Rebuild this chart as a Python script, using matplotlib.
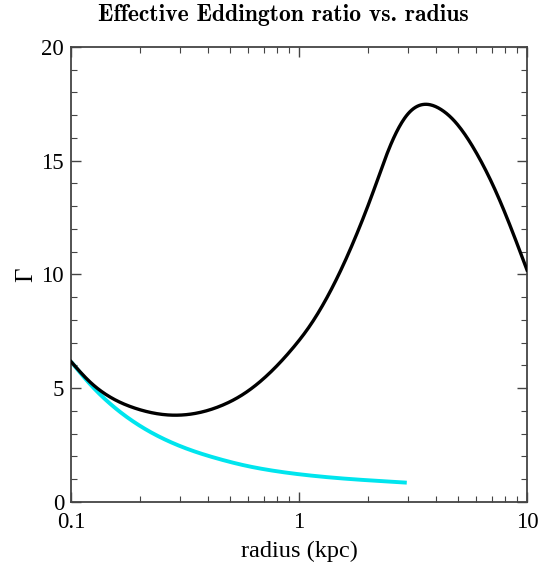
import numpy as np
import matplotlib
from matplotlib import pyplot as plt
from matplotlib.ticker import FixedLocator, MultipleLocator, NullFormatter

# black curve: effective Eddington ratio vs radius (kpc)
r_black = [0.1, 0.121, 0.148, 0.194, 0.263, 0.344, 0.45, 0.57, 0.675,
           0.944, 1.117, 1.322, 1.564, 1.852, 2.118, 2.465, 3.0, 3.63,
           4.2, 4.75, 6.01, 7.36, 10.0]
g_black = [6.17, 5.28, 4.62, 4.10, 3.83, 3.88, 4.21, 4.74, 5.29,
           6.79, 7.75, 8.96, 10.42, 12.13, 13.65, 15.45, 17.05, 17.48,
           17.25, 16.8, 15.33, 13.57, 10.2]

# cyan curve
r_cyan = [0.1, 0.121, 0.148, 0.194, 0.263, 0.344, 0.45, 0.57, 0.80,
          1.24, 1.62, 2.2, 2.97]
g_cyan = [6.17, 5.19, 4.33, 3.44, 2.71, 2.24, 1.88, 1.62, 1.35,
          1.12, 1.02, 0.93, 0.85]

x_ticks = [0.1, 1, 10]
x_ticklabels = ['0.1', '1', '10']

matplotlib.rc('font', family='Liberation Serif', size=16.5)


def spline(r, g, n=500):
    # natural cubic spline through the read points, in log-radius
    x = np.log10(r)
    y = np.asarray(g, float)
    nn = len(x)
    h = np.diff(x)
    A = np.zeros((nn, nn))
    b = np.zeros(nn)
    A[0, 0] = A[-1, -1] = 1
    for i in range(1, nn - 1):
        A[i, i - 1] = h[i - 1]
        A[i, i] = 2 * (h[i - 1] + h[i])
        A[i, i + 1] = h[i]
        b[i] = 6 * ((y[i + 1] - y[i]) / h[i] - (y[i] - y[i - 1]) / h[i - 1])
    M = np.linalg.solve(A, b)
    xs = np.linspace(x[0], x[-1], n)
    k = np.clip(np.searchsorted(x, xs, side='right') - 1, 0, nn - 2)
    t0 = x[k + 1] - xs
    t1 = xs - x[k]
    hk = h[k]
    ys = (M[k] * t0**3 / (6 * hk) + M[k + 1] * t1**3 / (6 * hk)
          + (y[k] / hk - M[k] * hk / 6) * t0
          + (y[k + 1] / hk - M[k + 1] * hk / 6) * t1)
    return 10**xs, ys


fig = plt.figure(figsize=(5.51, 5.68), dpi=100)
ax = fig.add_axes([0.1289, 0.1162, 0.9564 - 0.1289, 0.9173 - 0.1162])

xb, yb = spline(r_black, g_black)
xc, yc = spline(r_cyan, g_cyan)

ax.plot(xc, yc, color='#00e5ee', lw=2.8, solid_capstyle='butt', zorder=2)
ax.plot(xb, yb, color='black', lw=2.4, zorder=3)

ax.set_xscale('log')
ax.set_xlim(0.1, 10)
ax.set_ylim(0, 20)

ax.xaxis.set_major_locator(FixedLocator(x_ticks))
ax.set_xticklabels(x_ticklabels)
ax.xaxis.set_minor_locator(FixedLocator(
    [m * d for d in (0.1, 1) for m in range(2, 10)]))
ax.xaxis.set_minor_formatter(NullFormatter())
ax.yaxis.set_major_locator(MultipleLocator(5))
ax.yaxis.set_minor_locator(MultipleLocator(1))

ax.tick_params(which='both', direction='in', top=True, right=True,
               color='#444444')
ax.tick_params(which='major', length=7, width=1.0)
ax.tick_params(which='minor', length=4, width=0.8)
ax.tick_params(axis='x', which='major', pad=7)
ax.tick_params(axis='y', which='major', pad=5)
for s in ax.spines.values():
    s.set_color('#444444')
    s.set_linewidth(1.3)

ax.set_xlabel('radius (kpc)', fontsize=17.5)
ax.set_ylabel('Γ', fontsize=18, rotation=90)
ax.yaxis.set_label_coords(-0.075, 0.5)
ax.xaxis.set_label_coords(0.5, -0.085)

fig.text(0.514, 0.974, 'Effective Eddington ratio vs. radius',
         family='cmb10', fontsize=17, ha='center', va='center')

plt.savefig('out.png', dpi=100)
